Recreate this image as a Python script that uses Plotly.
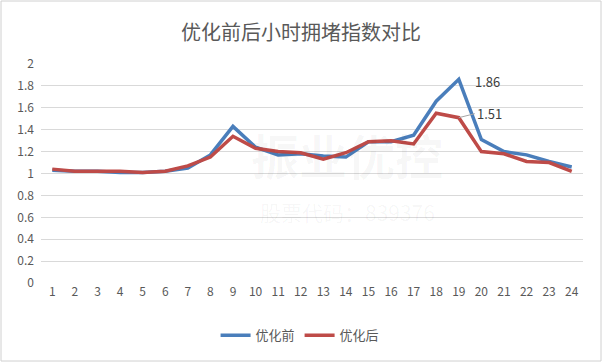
import plotly.graph_objects as go

hours = list(range(1, 25))
before = [1.03, 1.02, 1.02, 1.01, 1.01, 1.02, 1.05, 1.17, 1.43, 1.24, 1.17, 1.18,
          1.16, 1.15, 1.29, 1.29, 1.35, 1.66, 1.86, 1.31, 1.20, 1.17, 1.11, 1.06]
after = [1.04, 1.02, 1.02, 1.02, 1.01, 1.02, 1.07, 1.15, 1.34, 1.23, 1.20, 1.19,
         1.13, 1.19, 1.29, 1.30, 1.27, 1.55, 1.51, 1.20, 1.18, 1.11, 1.10, 1.02]
series_names = ["优化前", "优化后"]
y_ticks = [0, 0.2, 0.4, 0.6, 0.8, 1, 1.2, 1.4, 1.6, 1.8, 2]
y_labels = ["0", "0.2", "0.4", "0.6", "0.8", "1", "1.2", "1.4", "1.6", "1.8", "2"]

FONT = "Noto Sans CJK SC, Liberation Sans, sans-serif"
fig = go.Figure()
fig.add_trace(go.Scatter(x=hours, y=before, mode="lines", name=series_names[0],
                         line=dict(color="#4A7EBB", width=3.5)))
fig.add_trace(go.Scatter(x=hours, y=after, mode="lines", name=series_names[1],
                         line=dict(color="#BE4B48", width=3.5)))

peak_i = before.index(max(before))
fig.add_annotation(x=hours[peak_i], y=before[peak_i], text=f"{before[peak_i]:.2f}",
                   showarrow=False, xanchor="left", xshift=14, yshift=-2,
                   font=dict(size=13, color="#404040", family=FONT))
fig.add_annotation(x=hours[peak_i], y=after[peak_i], text=f"{after[peak_i]:.2f}",
                   showarrow=True, arrowhead=0, arrowwidth=1, arrowcolor="#A6A6A6",
                   ax=16, ay=-4, xanchor="left", yanchor="middle",
                   font=dict(size=13, color="#404040", family=FONT))

# watermark
fig.add_annotation(x=0.565, y=0.42, xref="paper", yref="paper", text="<b>振业优控</b>",
                   showarrow=False, yanchor="bottom",
                   font=dict(size=48, color="rgba(0,0,0,0.035)", family=FONT))
fig.add_annotation(x=0.565, y=0.40, xref="paper", yref="paper", text="股票代码：839376",
                   showarrow=False, yanchor="top",
                   font=dict(size=21, color="rgba(0,0,0,0.04)", family=FONT))

fig.update_layout(
    width=602, height=362,
    margin=dict(l=41, r=19, t=64, b=79),
    paper_bgcolor="white", plot_bgcolor="white",
    title=dict(text="优化前后小时拥堵指数对比", x=0.5, xanchor="center", y=0.91, yanchor="middle",
               font=dict(size=20, color="#595959", family=FONT)),
    font=dict(family=FONT, color="#595959", size=12),
    showlegend=True,
    legend=dict(orientation="h", x=0.478, xanchor="center", y=-0.17, yanchor="top",
                font=dict(size=13, color="#595959"), itemwidth=30, traceorder="normal"),
    xaxis=dict(type="linear", range=[0.5, 24.5], tickmode="array", tickvals=hours,
               ticktext=[str(h) for h in hours], showgrid=False, zeroline=False,
               showline=False, ticks="", tickfont=dict(size=12, color="#595959")),
    yaxis=dict(range=[0, 2], tickmode="array", tickvals=y_ticks, ticktext=y_labels,
               showgrid=True, gridcolor="#D9D9D9", gridwidth=1, zeroline=False,
               showline=False, ticks="", ticklabelstandoff=6,
               tickfont=dict(size=12, color="#595959")),
    shapes=[dict(type="rect", xref="paper", yref="paper", x0=-40/542, x1=1+18/542,
                 y0=-78/219, y1=1+63/219, line=dict(color="#D0D0D0", width=1),
                 fillcolor="rgba(0,0,0,0)", layer="above")],
)
fig.write_html("out.html", config={"displayModeBar": False},
               post_script="document.body.style.margin='0';")
